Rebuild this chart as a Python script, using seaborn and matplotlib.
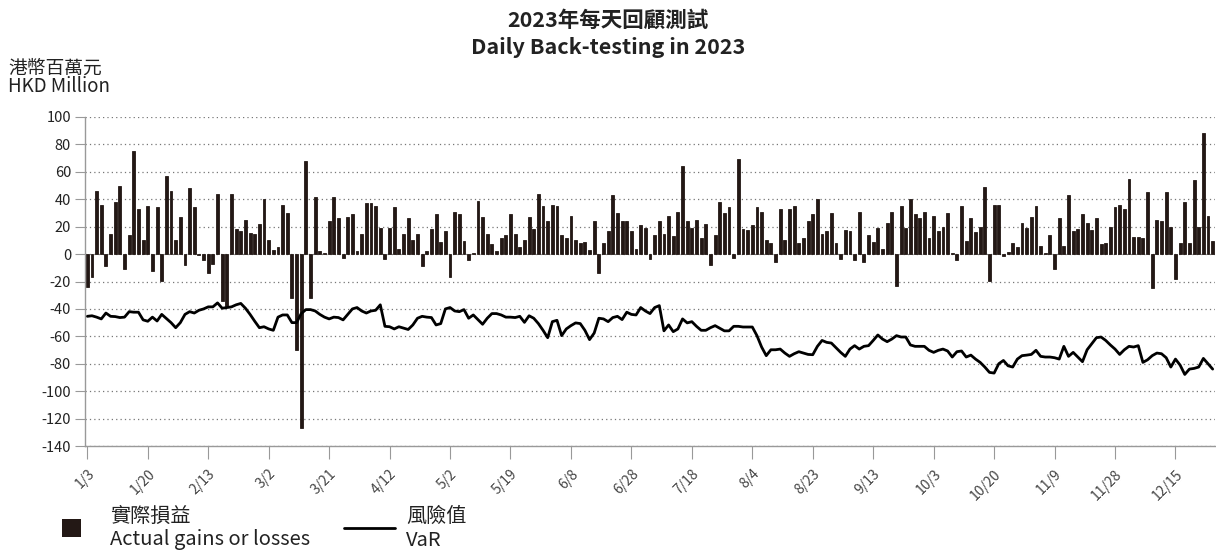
import numpy as np
import pandas as pd
import matplotlib
matplotlib.use("Agg")
import matplotlib.pyplot as plt
from matplotlib.patches import Rectangle
from matplotlib.lines import Line2D
import seaborn as sns

# ---------------- data ----------------
pnl = [
    -24, -17, 46, 36, -8.5, 15, 38, 50, -11, 14, 75, 33, 10, 35, -12, 34, -19.5, 57, 46, 10,
    27, -8, 48.5, 34, -1, -4, -14, -7, 44, -34,
    -38, 44, 18, 17, 25, 15.6, 15, 22, 40, 10, 3, 5, 36, 30, -32, -70, -127, 68, -32, 42,
    2.5, 1, 24, 42, 26, -2.5, 27, 29, 2.5, 15, 37,
    37.5, 35, 19, -3.5, 19, 34, 3.4, 15, 26, 10, 15, -9, 2, 18.5, 29, 9, 16.6, -17, 31, 29,
    9.5, -4, 1, 39, 27, 15, 7, 2, 12, 14,
    29, 15, 5, 10, 27, 18, 44, 35, 24, 36, 35, 14, 12, 28, 10, 8, 8.5, 3, 24, -14,
    8, 17, 43, 30, 24, 24, 17, 3.4, 21, 19,
    -3.5, 14, 24, 15, 28, 13, 31, 64, 24, 19, 25, 12, 22, -8, 14, 38, 30, 34, -2.5, 69,
    18.5, 17.5, 21, 34, 31, 10, 8, -6, 33, 10, 33,
    35, 8, 11.5, 24, 29, 40, 15, 17, 30, 8, -3.5, 17.5, 16.6, -4, 31, -6, 14, 9, 19, 3.4,
    23, 31, -23.4, 35, 19, 40, 29, 26, 30.5, 11.5,
    28, 17, 20, 30, 1, -4, 35, 9.5, 26, 16, 20, 49, -19.5, 36, 36, -1.5, 1.2, 8, 5, 23,
    19, 27, 35, 5.6, 1, 14, -11, 26, 6, 43,
    17, 18.5, 29, 23, 17.5, 26, 7, 8, 19.5, 34, 36, 33, 55, 12.7, 12.7, 11.7, 45, -24.4, 25, 24,
    45, 20, -18.5, 8, 38, 8, 54, 19.5, 88, 28, 9.5,
]

var = [
    -45.4, -45, -46, -47.3, -43, -45.4, -45.6, -46.3, -46, -42, -42.4, -42.4, -48, -49, -46, -48.8,
    -44, -47, -50, -53.7, -50, -44, -42, -43, -41, -40, -38.5, -38.5, -35.6, -39.5,
    -39, -38.5, -37, -36, -39.5, -44, -49, -53.7, -53, -54.6, -55.6, -46, -44.4, -44.4, -50, -50,
    -43.4, -40.5, -40.5, -41.5, -44, -46, -47.3, -46, -46.3, -48, -44, -40, -39, -41.5, -43,
    -41.5, -41, -37, -52.7, -53, -54.6, -53, -54, -55, -51.7, -46.8, -45.4, -46, -46.3, -51.7,
    -50.7, -40, -39, -41.5, -42, -40.5, -46.8, -44.4, -47.8, -51.2, -46.8, -43.4, -43.4, -44.4, -46,
    -46, -46.3, -45.4, -49.8, -45, -46.8, -50.7, -55.6, -61, -49.3, -48.3, -59.5, -54.6, -52.2,
    -50.2, -50.7, -55.6, -62.4, -57.6, -46.8, -47.3, -49.3, -46.3, -45.4, -47.8, -42.4, -44,
    -44.4, -39, -41.5,
    -43.4, -39, -37.6, -56, -51.7, -56.6, -54.6, -47.3, -50.2, -49.3, -52.7, -55.6, -55.6, -53.7,
    -52.2, -54.1, -56, -56, -52.7, -52.7, -53.2, -53.2, -53.2, -59.5, -67.8, -74.1, -69.8, -69.8,
    -69.3, -72.2, -74.6,
    -72.7, -71.2, -72.2, -73.2, -73.4, -67.3, -63, -64.4, -64.9, -68.3, -71.7, -74.6, -69.3, -66.8,
    -69.3, -67.3, -66.8, -63, -59, -62, -63.9, -62, -59.5, -60.5, -60.5, -66.3, -67.3, -67.3,
    -67.3, -70.2,
    -71.7, -70.2, -69.3, -70.7, -75.1, -71.2, -70.7, -75.1, -73.7, -76.6, -79, -82.4, -86.3, -86.8,
    -80, -77.6, -81.5, -82.4, -76.6, -74.1, -73.7, -73.2, -70.2, -74.6, -75.1, -75.1, -75.6, -76.6,
    -67.3, -74.6,
    -71.7, -75.1, -78.5, -69.8, -65.4, -61, -60.5, -63, -66.3, -69.3, -73.2, -69.8, -67.3, -67.8,
    -66.8, -79, -77.1, -74.1, -72.2, -72.7, -75.6, -82.4, -76.6, -81, -87.8, -83.9, -83.4, -82.4,
    -76.1, -80, -83.9,
]

tick_labels = ["1/3", "1/20", "2/13", "3/2", "3/21", "4/12", "5/2", "5/19", "6/8", "6/28",
               "7/18", "8/4", "8/23", "9/13", "10/3", "10/20", "11/9", "11/28", "12/15"]
tick_step = 13  # trading days between labelled dates

title_zh = "2023年每天回顧測試"
title_en = "Daily Back-testing in 2023"
unit_zh = "港幣百萬元"
unit_en = "HKD Million"
leg_bar_zh, leg_bar_en = "實際損益", "Actual gains or losses"
leg_line_zh, leg_line_en = "風險值", "VaR"

# ---------------- plot ----------------
sns.set_theme(style="white")
plt.rcParams["font.family"] = ["Noto Sans CJK TC", "DejaVu Sans"]

n = len(pnl)
df = pd.DataFrame({"day": np.arange(n), "pnl": pnl, "var": var})

fig = plt.figure(figsize=(12.16, 5.51), dpi=100)
ax = fig.add_axes([85 / 1216, 1 - 446 / 551, (1215 - 85) / 1216, (446 - 117) / 551])

bar_color = "#231815"
sns.barplot(data=df, x="day", y="pnl", color=bar_color, saturation=1, width=0.62,
            edgecolor=bar_color, linewidth=0.6, ax=ax)
sns.lineplot(data=df, x="day", y="var", color="black", linewidth=2.0, ax=ax)

ax.set_xlim(-0.5, n - 0.5)
ax.set_ylim(-140, 100)
ax.set_yticks(np.arange(-140, 101, 20))
ax.set_yticklabels([str(v) for v in range(-140, 101, 20)], fontsize=10.5, color="#222222")
ax.set_xticks(np.arange(0, tick_step * len(tick_labels), tick_step))
ax.set_xticklabels(tick_labels, rotation=45, fontsize=10, color="#444444",
                   ha="right", rotation_mode="anchor")
ax.tick_params(axis="x", length=9, width=0.8, color="#999999", pad=6, bottom=True)
ax.tick_params(axis="y", length=7, width=0.8, color="#999999", pad=3, left=True)
ax.set_xlabel("")
ax.set_ylabel("")

ax.yaxis.grid(True, linestyle=(0, (1, 2.5)), color="#777777", linewidth=0.9)
ax.xaxis.grid(False)
ax.set_axisbelow(True)
for side in ["top", "right"]:
    ax.spines[side].set_visible(False)
for side in ["left", "bottom"]:
    ax.spines[side].set_color("#999999")
    ax.spines[side].set_linewidth(1.0)

# titles
fig.text(0.5, 1 - 20 / 551, title_zh, ha="center", va="center", fontsize=15.5, fontweight="bold", color="#222222")
fig.text(0.5, 1 - 47 / 551, title_en, ha="center", va="center", fontsize=15.5, fontweight="bold", color="#222222")
fig.text(8 / 1216, 1 - 68 / 551, unit_zh, ha="left", va="center", fontsize=13.5, color="#222222")
fig.text(8 / 1216, 1 - 87 / 551, unit_en, ha="left", va="center", fontsize=13.5, color="#222222")

# legend
fig.add_artist(Rectangle((62 / 1216, 1 - 537 / 551), 19 / 1216, 18 / 551,
                         transform=fig.transFigure, facecolor=bar_color, edgecolor="none"))
fig.text(110 / 1216, 1 - 516 / 551, leg_bar_zh, ha="left", va="center", fontsize=14.5, color="#222222")
fig.text(110 / 1216, 1 - 540 / 551, leg_bar_en, ha="left", va="center", fontsize=14.5, color="#222222")
fig.add_artist(Line2D([344 / 1216, 395 / 1216], [1 - 528 / 551, 1 - 528 / 551],
                      transform=fig.transFigure, color="black", linewidth=2.0))
fig.text(406 / 1216, 1 - 516 / 551, leg_line_zh, ha="left", va="center", fontsize=14.5, color="#222222")
fig.text(406 / 1216, 1 - 540 / 551, leg_line_en, ha="left", va="center", fontsize=14.5, color="#222222")

fig.savefig("out.png", dpi=100, facecolor="white")
